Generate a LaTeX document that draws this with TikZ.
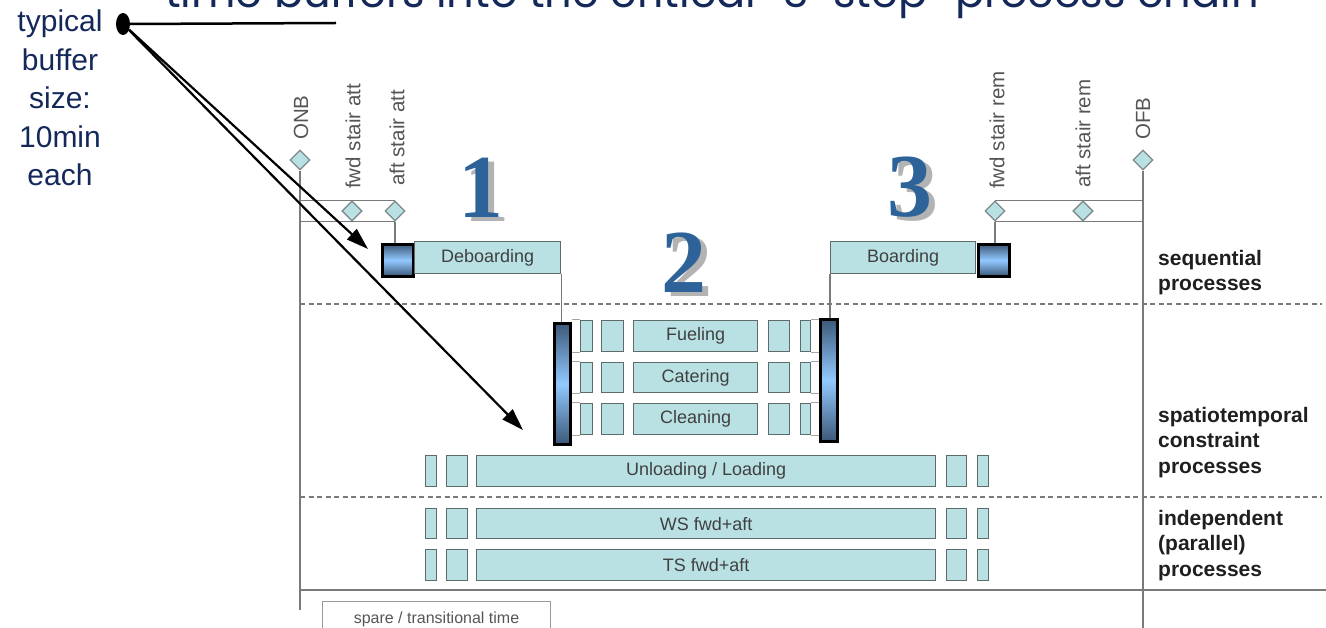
\documentclass[tikz,border=0pt]{standalone}
\usepackage{graphicx}
\usepackage{fontspec}
\setmainfont{Liberation Sans}
\newfontfamily\titlefont{Poppins}
\newfontfamily\numfont{Liberation Serif}
\usetikzlibrary{arrows.meta,shapes.geometric,calc}
\definecolor{boxfill}{HTML}{B9E1E4}
\definecolor{boxline}{HTML}{5E6B6B}
\definecolor{conn}{HTML}{7A7A7A}
\definecolor{navy}{HTML}{14285A}
\definecolor{numblue}{HTML}{2E6399}
\definecolor{numshadow}{HTML}{B3B3B3}
\definecolor{bufdark}{HTML}{3C5878}
\definecolor{buflight}{HTML}{92C9FF}
\definecolor{labgray}{HTML}{555555}
\newcommand{\shadownum}[1]{\makebox[0pt][l]{\hspace*{6pt}\raisebox{-4pt}{\textcolor{numshadow}{#1}}}\textcolor{numblue}{#1}}
\tikzset{
  pbox/.style={draw=boxline, fill=boxfill, line width=1.3pt, inner sep=0pt, anchor=north west,
    font=\fontsize{18}{20}\selectfont, text=black!75},
  buf/.style={draw=black, line width=2.6pt, top color=bufdark, bottom color=bufdark,
    middle color=buflight, inner sep=0pt, anchor=north west},
  diam/.style={diamond, draw=boxline!80, fill=boxfill, line width=1.2pt, minimum width=20pt,
    minimum height=20pt, inner sep=0pt},
  conn/.style={draw=conn, line width=1.5pt},
  thinconn/.style={draw=black!35, line width=1pt},
  sep/.style={draw=conn, line width=1.5pt, dash pattern=on 5pt off 3.5pt},
  vlab/.style={rotate=90, anchor=west, inner sep=0pt, text=labgray, font=\fontsize{20.5}{22}\selectfont},
  rlab/.style={anchor=north west, align=left, inner sep=0pt, text=black!88,
    font=\bfseries\fontsize{21}{25.5}\selectfont},
  num/.style={anchor=base, inner sep=0pt, font=\numfont\bfseries\fontsize{90}{90}\selectfont},
  arr/.style={draw=black, line width=2.2pt, -{Triangle[length=22pt,width=14pt]}},
}
\begin{document}
\begin{tikzpicture}[x=1pt,y=-1pt]
\useasboundingbox (0,0) rectangle (1326,628);
\clip (0,0) rectangle (1326,628);

% title (cut off at top)
\node[anchor=base west, inner sep=0pt, text=navy] (title) at (165,8)
  {\resizebox{1093pt}{!}{\titlefont time buffers into the critical “3-step” process chain}};

% note
\node[anchor=north, align=center, inner sep=0pt, text=navy,
  font=\fontsize{30}{38.5}\selectfont] (note) at (60,10) {typical\\buffer\\size:\\10min\\each};

% milestones
\node[diam] (onb) at (300,160) {};
\node[diam] (fsa) at (352,211) {};
\node[diam] (asa) at (395,211) {};
\node[diam] (fsr) at (995,211) {};
\node[diam] (asr) at (1083,211) {};
\node[diam] (ofb) at (1143,160) {};
\node[vlab] (onbl) at (301,140) {ONB};
\node[vlab] (fsal) at (353,189) {fwd stair att};
\node[vlab] (asal) at (397,186) {aft stair att};
\node[vlab] (fsrl) at (997,189) {fwd stair rem};
\node[vlab] (asrl) at (1083,188) {aft stair rem};
\node[vlab] (ofbl) at (1143,140) {OFB};

\coordinate (onbend) at (300,610);
\coordinate (ofbend) at (1143,628);

% separators
\coordinate (s1a) at (300,304); \coordinate (s1b) at (1322,304);
\coordinate (s2a) at (300,497); \coordinate (s2b) at (1322,497);
\coordinate (s3a) at (300,590); \coordinate (s3b) at (1326,590);
\draw[sep] (s1a) -- (s1b);
\draw[sep] (s2a) -- (s2b);
\draw[draw=conn, line width=2pt] (s3a) -- (s3b);

\draw[conn] (onb.south) -- (onbend);
\draw[conn] (ofb.south) -- (ofbend);
\draw[conn] (asa.north) -- (asa.north -| onb);
\draw[conn] (asa.south) -- (asa.south -| onb);
\draw[conn] (fsr.north) -- (fsr.north -| ofb);
\draw[conn] (fsr.south) -- (fsr.south -| ofb);
% redraw diamonds above lines
\node[diam] at (fsa) {};
\node[diam] at (asr) {};

% sequential processes
\node[buf, minimum width=31pt, minimum height=32pt] (debbuf) at (381,243) {};
\node[pbox, minimum width=146pt, minimum height=32pt] (deb) at (414,241) {Deboarding};
\node[pbox, minimum width=145pt, minimum height=32pt] (board) at (830,241) {Boarding};
\node[buf, minimum width=31pt, minimum height=32pt] (boardbuf) at (977,243) {};
\draw[conn] (asa.south) -- (asa.south |- debbuf.north);
\draw[conn] (fsr.south) -- (fsr.south |- boardbuf.north);

% spatiotemporal bars
\node[buf, minimum width=16pt, minimum height=121pt] (lbar) at (553,322) {};
\node[buf, minimum width=17pt, minimum height=122pt] (rbar) at (819,318) {};
\draw[conn] (deb.south east) -- (deb.south east |- lbar.north);
\draw[conn] (board.south west) -- (board.south west |- rbar.north);

% rows with bars
\foreach \n/\y/\h in {fuel/320/31, cat/362/30, clean/403/31}{
  \node[pbox, minimum width=12pt, minimum height=\h pt] (\n a) at (580,\y) {};
  \node[pbox, minimum width=22pt, minimum height=\h pt] (\n b) at (601,\y) {};
  \node[pbox, minimum width=21pt, minimum height=\h pt] (\n d) at (768,\y) {};
  \node[pbox, minimum width=10pt, minimum height=\h pt] (\n e) at (800,\y) {};
  \draw[thinconn] (\n a.north west) -- (\n a.north west -| lbar.east);
  \draw[thinconn] (\n a.south west) -- (\n a.south west -| lbar.east);
  \draw[thinconn] (\n e.north east) -- (\n e.north east -| rbar.west);
  \draw[thinconn] (\n e.south east) -- (\n e.south east -| rbar.west);
}
\node[pbox, minimum width=124pt, minimum height=31pt] (fuel) at (633,320) {Fueling};
\node[pbox, minimum width=124pt, minimum height=30pt] (cat) at (633,362) {Catering};
\node[pbox, minimum width=124pt, minimum height=31pt] (clean) at (633,403) {Cleaning};

% long rows
\foreach \n/\y/\h in {unl/455/31, ws/508/30, ts/549/31}{
  \node[pbox, minimum width=11pt, minimum height=\h pt] (\n a) at (425,\y) {};
  \node[pbox, minimum width=21pt, minimum height=\h pt] (\n b) at (446,\y) {};
  \node[pbox, minimum width=20pt, minimum height=\h pt] (\n d) at (946,\y) {};
  \node[pbox, minimum width=11pt, minimum height=\h pt] (\n e) at (977,\y) {};
}
\node[pbox, minimum width=459pt, minimum height=31pt] (unl) at (476,455) {Unloading / Loading};
\node[pbox, minimum width=459pt, minimum height=30pt] (ws) at (476,508) {WS fwd+aft};
\node[pbox, minimum width=459pt, minimum height=31pt] (ts) at (476,549) {TS fwd+aft};

% legend
\node[draw=black!40, line width=1pt, minimum width=228pt, minimum height=36pt, anchor=north west,
  inner sep=0pt, text=labgray, font=\fontsize{16}{18}\selectfont] (spare) at (322,601) {spare / transitional time};

% right labels
\node[rlab] (lseq) at (1158,250) {sequential\\processes};
\node[rlab] (lspt) at (1158,407) {spatiotemporal\\constraint\\processes};
\node[rlab] (lind) at (1158,510) {independent\\(parallel)\\processes};

% step numbers (with drop shadow)
\node[num] (n1) at (481,218) {\shadownum{1}};
\node[num] (n2) at (684,293) {\shadownum{2}};
\node[num] (n3) at (910,217) {\shadownum{3}};

% buffer callout
\node[ellipse, fill=black, minimum width=14pt, minimum height=22pt, inner sep=0pt] (dot) at (123,24) {};
\coordinate (lineend) at (336,23);
\coordinate (tip1) at (368,249);
\coordinate (tip2) at (523,430);
\draw[draw=black, line width=2.5pt] (dot.east) -- (lineend);
\draw[arr] (dot) -- (tip1);
\draw[arr] (dot) -- (tip2);
\end{tikzpicture}
\end{document}
